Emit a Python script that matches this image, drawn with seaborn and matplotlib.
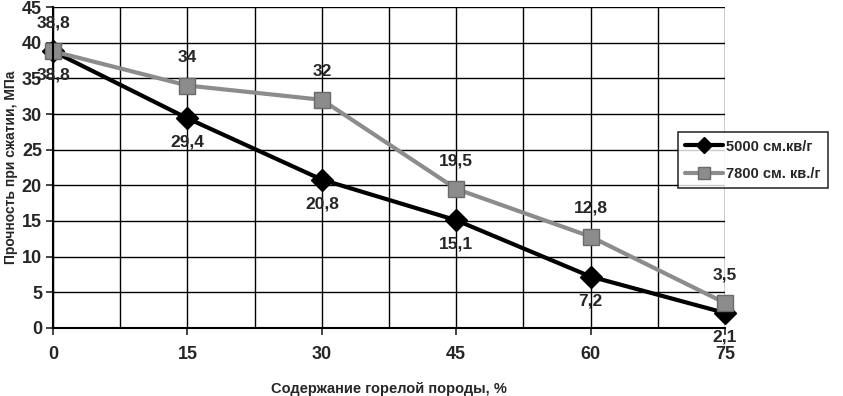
import pandas as pd
import numpy as np
import matplotlib
matplotlib.use("Agg")
import matplotlib.pyplot as plt
from matplotlib.ticker import MultipleLocator
import seaborn as sns

# ── data ──────────────────────────────────────────────────────
content = [0, 15, 30, 45, 60, 75]
strength_5000 = [38.8, 29.4, 20.8, 15.1, 7.2, 2.1]
strength_7800 = [38.8, 34, 32, 19.5, 12.8, 3.5]
series_names = ["5000 см.кв/г", "7800 см. кв./г"]

df = pd.DataFrame({
    "x": content * 2,
    "y": strength_5000 + strength_7800,
    "series": [series_names[0]] * len(content) + [series_names[1]] * len(content),
})

sns.set_style("white")
plt.rcParams["font.family"] = ["Liberation Sans", "DejaVu Sans"]
plt.rcParams["font.weight"] = "bold"

fig = plt.figure(figsize=(8.43, 3.96), dpi=100)
ax = fig.add_axes([0.063, 0.172, 0.797, 0.81])

palette = {series_names[0]: "black", series_names[1]: "#8c8c8c"}
markers = {series_names[0]: "D", series_names[1]: "s"}
sns.lineplot(data=df, x="x", y="y", hue="series", style="series",
             palette=palette, markers=markers, dashes=False,
             linewidth=3, markersize=12, markeredgecolor="#6a6a6a",
             markeredgewidth=1, ax=ax)
# diamonds fully black
for line in ax.lines:
    if line.get_marker() == "D":
        line.set_markeredgecolor("black")
        line.set_markersize(11)

ax.set_xlim(0, 75)
ax.set_ylim(0, 45)
ax.xaxis.set_major_locator(MultipleLocator(15))
ax.xaxis.set_minor_locator(MultipleLocator(7.5))
ax.yaxis.set_major_locator(MultipleLocator(5))
ax.grid(which="both", axis="x", color="black", linewidth=1)
ax.grid(which="major", axis="y", color="black", linewidth=1)
for s in ["top", "right"]:
    ax.spines[s].set_visible(False)
for s in ["left", "bottom"]:
    ax.spines[s].set_linewidth(1.5)
    ax.spines[s].set_color("black")
ax.tick_params(axis="both", which="major", direction="out", length=5, width=1.2,
               labelsize=13)
ax.tick_params(axis="x", which="major", pad=8)
ax.tick_params(axis="y", which="major", pad=3)
ax.tick_params(axis="x", which="minor", length=0)
ax.tick_params(axis="both", left=True, bottom=True)

ax.set_xlabel("Содержание горелой породы, %", fontsize=10.5, fontweight="bold", labelpad=14)
ax.set_ylabel("Прочность при сжатии, МПа", fontsize=10, fontweight="bold", labelpad=3)

# data labels: 7800 above, 5000 below
for x, y in zip(content, strength_7800):
    ax.annotate(f"{y:g}".replace(".", ","), (x, y), xytext=(0, 15),
                textcoords="offset points", ha="center", va="bottom",
                fontsize=12.5, fontweight="bold", annotation_clip=False)
for x, y in zip(content, strength_5000):
    ax.annotate(f"{y:g}".replace(".", ","), (x, y), xytext=(0, -12),
                textcoords="offset points", ha="center", va="top",
                fontsize=12.5, fontweight="bold", annotation_clip=False)

for line in ax.lines:
    line.set_clip_on(False)

leg = ax.legend(loc="upper left", bbox_to_anchor=(0.93, 0.61), frameon=True,
                fontsize=10.5, handlelength=2.6, borderaxespad=0, fancybox=False,
                labelspacing=0.9, borderpad=0.5, handletextpad=0.2,
                markerscale=0.75)
leg.get_frame().set_edgecolor("black")
leg.get_frame().set_linewidth(1.2)
for t in leg.get_texts():
    t.set_fontweight("bold")

fig.savefig("out.png", dpi=100)
